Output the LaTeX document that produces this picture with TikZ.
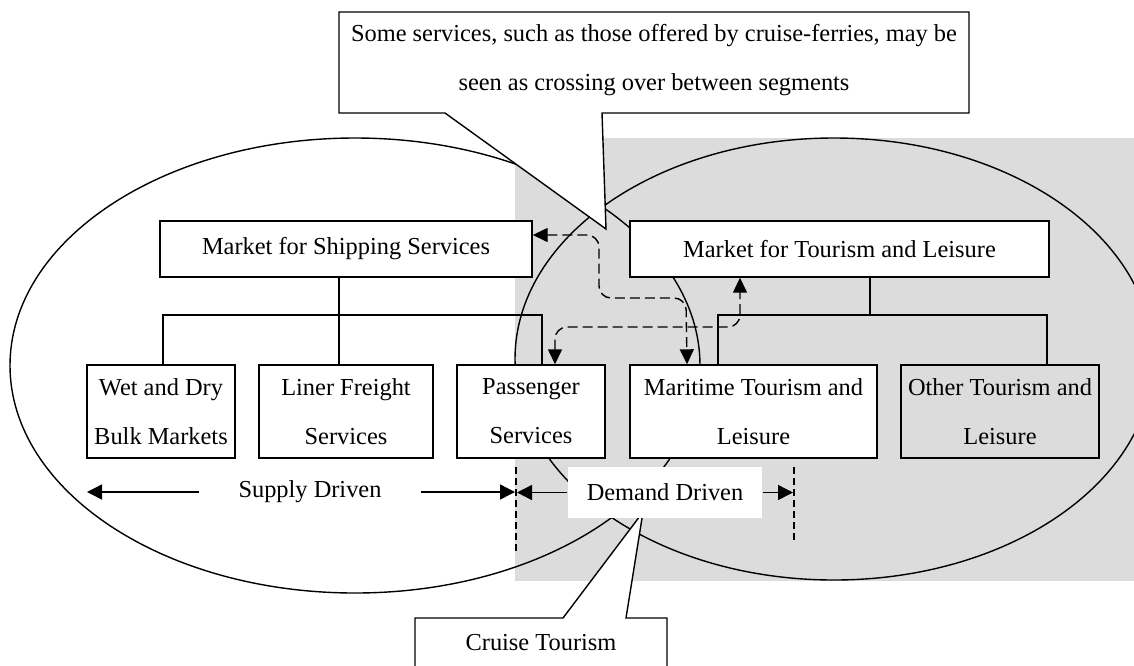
\documentclass[tikz,border=0pt]{standalone}
\usepackage{fontspec}
\setmainfont{Liberation Serif}
\usetikzlibrary{arrows.meta,calc}
\definecolor{bg}{RGB}{220,220,220}
\begin{document}
\begin{tikzpicture}[x=0.5pt,y=-0.5pt, line width=0.7pt,
  txt/.style={font=\fontsize{12.2}{24.4}\selectfont, align=center, inner sep=0pt},
  box/.style={txt, draw, fill=white, minimum height=28pt},
  sbox/.style={txt, draw, fill=white, minimum height=46.5pt},
  tipped/.style={-{Triangle[length=7.5pt,width=7.5pt]}},
  dasharr/.style={{Triangle[length=7.5pt,width=7pt]}-{Triangle[length=7.5pt,width=7pt]}, dash pattern=on 5pt off 2.5pt, rounded corners=6pt},
  vdash/.style={dash pattern=on 3.5pt off 2pt}]

\useasboundingbox (0,0) rectangle (1134,665);
\fill[white] (0,0) rectangle (1134,665);
\fill[bg] (515,138) rectangle (1134,581);

% ellipses
\draw (355,365.5) ellipse [x radius=172.5pt, y radius=113.75pt];
\draw (834,359) ellipse [x radius=159.5pt, y radius=110.5pt];

% boxes
\node[box, minimum width=186pt] (ship) at (346,249) {Market for Shipping Services};
\node[box, minimum width=209.5pt] (tour) at (839.5,249) {Market for Tourism and Leisure};
\node[sbox, minimum width=74pt] (wet) at (161,411.5) {Wet and Dry\\Bulk Markets};
\node[sbox, minimum width=87pt] (liner) at (346,411.5) {Liner Freight\\Services};
\node[sbox, minimum width=74pt] (pass) at (531,411.5) {Passenger\\Services};
\node[sbox, minimum width=123.5pt] (mar) at (753.5,411.5) {Maritime Tourism and\\Leisure};
\node[sbox, fill=none, minimum width=99pt] (other) at (1000,411.5) {Other Tourism and\\Leisure};

% tree connectors
\coordinate (b1) at (163,315);
\coordinate (b2) at (339,315);
\coordinate (b3) at (542,315);
\draw (b2 |- ship.south) -- (b2);
\draw (b1 |- wet.north) -- (b1) -- (b3) -- (b3 |- pass.north);
\draw (b2) -- (b2 |- liner.north);
\coordinate (c1) at (718,315);
\coordinate (c2) at (870,315);
\coordinate (c3) at (1047,315);
\draw (c2 |- tour.south) -- (c2);
\draw (c1 |- mar.north) -- (c1) -- (c3) -- (c3 |- other.north);

% dashed arrows
\coordinate (m1) at (687,0);
\coordinate (p1) at (555,0);
\coordinate (t1) at (740,0);
\draw[dasharr] ($(ship.east)+(0,-14)$) -- (599,235) -- (599,298) -- (686,298) -- (m1 |- mar.north);
\draw[dasharr] (p1 |- pass.north) -- (555,327) -- (740,327) -- (t1 |- tour.south);

% top callout
\draw[fill=white] (339,12) -- (969,12) -- (969,113) -- (602,113) -- (606,229) -- (445,113) -- (339,113) -- cycle;
\node[txt] (note) at (654,60) {Some services, such as those offered by cruise-ferries, may be\\seen as crossing over between segments};

% bottom callout
\draw[fill=white] (415,675) -- (415,618) -- (563,618) -- (643,512) -- (626,618) -- (667,618) -- (667,675) -- cycle;
\node[txt] (cruise) at (541,643) {Cruise Tourism};

% supply / demand
\coordinate (sL) at (87,492);
\coordinate (sR) at (515,492);
\coordinate (dL) at (517,492.5);
\coordinate (dR) at (793,492.5);
\node[txt, minimum width=110pt] (sup) at (310,492) {Supply Driven};
\draw[tipped] (sup.west) -- (sL);
\draw[tipped] (sup.east) -- (sR);
\node[txt, fill=white, minimum width=97pt, minimum height=25.5pt] (dem) at (665,492.5) {Demand Driven};
\draw[tipped] (dem.west) -- (dL);
\draw[tipped] (dem.east) -- (dR);
\coordinate (v1a) at (516,467);
\coordinate (v1b) at (516,551);
\coordinate (v2a) at (794,467);
\coordinate (v2b) at (794,543);
\draw[vdash] (v1a) -- (v1b);
\draw[vdash] (v2a) -- (v2b);
\end{tikzpicture}
\end{document}
